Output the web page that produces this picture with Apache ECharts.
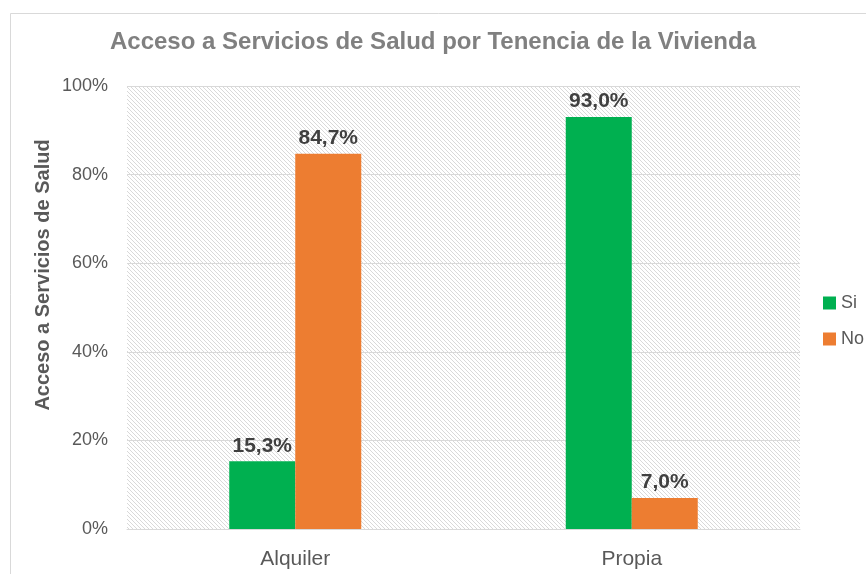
<!DOCTYPE html>
<html>
<head>
<meta charset="utf-8">
<script src="https://cdn.jsdelivr.net/npm/echarts@6/dist/echarts.min.js"></script>
<style>
  html, body { margin: 0; padding: 0; background: #ffffff; }
  #chart { width: 866px; height: 574px; }
</style>
</head>
<body>
<div id="chart"></div>
<script>
const categories = ["Alquiler", "Propia"];
const siValues = [15.3, 93.0];
const noValues = [84.7, 7.0];
const yTicks = [0, 20, 40, 60, 80, 100];

// hatch pattern for the plot area
const makeHatch = () => {
  const c = document.createElement("canvas");
  c.width = 4;
  c.height = 4;
  const ctx = c.getContext("2d");
  ctx.fillStyle = "#ffffff";
  ctx.fillRect(0, 0, 4, 4);
  ctx.fillStyle = "#d9d9d9";
  for (let i = 0; i < 4; i++) {
    ctx.fillRect(i, i, 1, 1);
  }
  return c;
};

const fmt = (v) => v.toFixed(1).replace(".", ",") + "%";

const labelStyle = {
  show: true,
  position: "top",
  distance: 5,
  color: "#404040",
  fontSize: 21,
  fontWeight: "bold",
  fontFamily: "Liberation Sans",
  formatter: (p) => fmt(p.value),
};

const chart = echarts.init(document.getElementById("chart"));
chart.setOption({
  animation: false,
  backgroundColor: "#ffffff",
  textStyle: { fontFamily: "Liberation Sans" },
  title: {
    text: "Acceso a Servicios de Salud por Tenencia de la Vivienda",
    left: "center",
    top: 25,
    textStyle: { color: "#808080", fontSize: 24, fontWeight: "bold" },
  },
  graphic: [
    {
      type: "rect",
      shape: { x: 10.5, y: 13.5, width: 900, height: 600 },
      style: { fill: "none", stroke: "#d9d9d9", lineWidth: 1 },
      silent: true,
    },
    {
      type: "text",
      x: 43,
      y: 275,
      rotation: Math.PI / 2,
      style: {
        text: "Acceso a Servicios de Salud",
        fill: "#595959",
        fontSize: 20,
        fontWeight: "bold",
        fontFamily: "Liberation Sans",
        align: "center",
        verticalAlign: "middle",
      },
      silent: true,
    },
  ],
  legend: {
    orient: "vertical",
    left: 818,
    top: 289,
    itemWidth: 13,
    itemHeight: 13,
    itemGap: 18,
    icon: "rect",
    textStyle: { color: "#595959", fontSize: 18 },
    data: ["Si", "No"],
  },
  grid: {
    left: 127,
    right: 66,
    top: 86,
    bottom: 45,
    show: true,
    borderWidth: 0,
    backgroundColor: { image: makeHatch(), repeat: "repeat" },
  },
  xAxis: {
    type: "category",
    data: categories,
    axisTick: { show: false },
    axisLine: { lineStyle: { color: "#d9d9d9" } },
    axisLabel: { color: "#595959", fontSize: 21, margin: 20 },
  },
  yAxis: {
    type: "value",
    min: yTicks[0],
    max: yTicks[yTicks.length - 1],
    interval: 20,
    axisLine: { show: false },
    axisTick: { show: false },
    axisLabel: { color: "#595959", fontSize: 18, margin: 19, formatter: "{value}%" },
    splitLine: { lineStyle: { color: "#d9d9d9" } },
  },
  series: [
    {
      name: "Si",
      type: "bar",
      data: siValues,
      barWidth: 66,
      barGap: "0%",
      itemStyle: { color: "#00b050" },
      label: labelStyle,
    },
    {
      name: "No",
      type: "bar",
      data: noValues,
      barWidth: 66,
      itemStyle: { color: "#ed7d31" },
      label: labelStyle,
    },
  ],
});
</script>
</body>
</html>
